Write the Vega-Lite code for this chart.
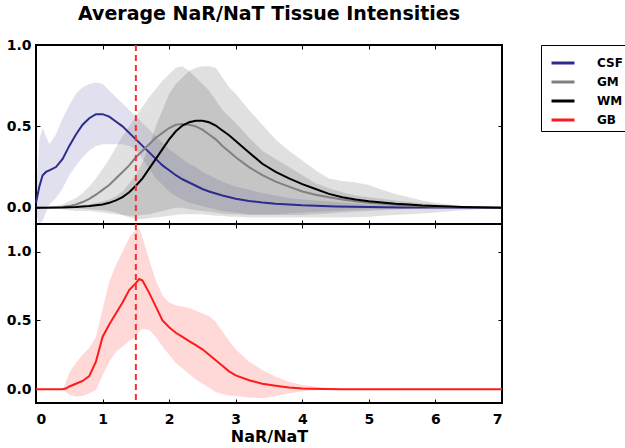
{
  "$schema": "https://vega.github.io/schema/vega-lite/v6.json",
  "padding": {"left": 5, "top": 5, "right": 0, "bottom": 5},
  "title": {"text": "Average NaR/NaT Tissue Intensities", "font": "DejaVu Sans", "fontSize": 19, "fontWeight": "bold", "color": "black", "anchor": "middle", "frame": "group", "offset": 13},
  "datasets": {
    "marker": [{"x": 1.5}],
    "tissue": [
      {"s": "CSF", "x": 0, "m": 0.03, "lo": -0.04, "hi": 0.08},
      {"s": "CSF", "x": 0.05, "m": 0.13, "lo": -0.1, "hi": 0.42},
      {"s": "CSF", "x": 0.1, "m": 0.2, "lo": -0.08, "hi": 0.49},
      {"s": "CSF", "x": 0.15, "m": 0.22, "lo": -0.03, "hi": 0.44},
      {"s": "CSF", "x": 0.2, "m": 0.23, "lo": 0.02, "hi": 0.39},
      {"s": "CSF", "x": 0.3, "m": 0.25, "lo": 0.06, "hi": 0.45},
      {"s": "CSF", "x": 0.4, "m": 0.3, "lo": 0.12, "hi": 0.55},
      {"s": "CSF", "x": 0.5, "m": 0.38, "lo": 0.2, "hi": 0.63},
      {"s": "CSF", "x": 0.6, "m": 0.45, "lo": 0.26, "hi": 0.7},
      {"s": "CSF", "x": 0.7, "m": 0.51, "lo": 0.31, "hi": 0.74},
      {"s": "CSF", "x": 0.8, "m": 0.55, "lo": 0.35, "hi": 0.76},
      {"s": "CSF", "x": 0.9, "m": 0.575, "lo": 0.38, "hi": 0.77},
      {"s": "CSF", "x": 1.0, "m": 0.575, "lo": 0.39, "hi": 0.76},
      {"s": "CSF", "x": 1.1, "m": 0.56, "lo": 0.39, "hi": 0.72},
      {"s": "CSF", "x": 1.2, "m": 0.53, "lo": 0.39, "hi": 0.68},
      {"s": "CSF", "x": 1.3, "m": 0.5, "lo": 0.39, "hi": 0.64},
      {"s": "CSF", "x": 1.4, "m": 0.46, "lo": 0.38, "hi": 0.6},
      {"s": "CSF", "x": 1.5, "m": 0.42, "lo": 0.36, "hi": 0.56},
      {"s": "CSF", "x": 1.6, "m": 0.38, "lo": 0.3, "hi": 0.52},
      {"s": "CSF", "x": 1.7, "m": 0.34, "lo": 0.24, "hi": 0.48},
      {"s": "CSF", "x": 1.8, "m": 0.3, "lo": 0.18, "hi": 0.44},
      {"s": "CSF", "x": 1.9, "m": 0.26, "lo": 0.14, "hi": 0.4},
      {"s": "CSF", "x": 2.0, "m": 0.23, "lo": 0.1, "hi": 0.36},
      {"s": "CSF", "x": 2.1, "m": 0.2, "lo": 0.07, "hi": 0.33},
      {"s": "CSF", "x": 2.2, "m": 0.175, "lo": 0.05, "hi": 0.3},
      {"s": "CSF", "x": 2.3, "m": 0.155, "lo": 0.03, "hi": 0.27},
      {"s": "CSF", "x": 2.4, "m": 0.135, "lo": 0.02, "hi": 0.25},
      {"s": "CSF", "x": 2.5, "m": 0.115, "lo": 0.01, "hi": 0.22},
      {"s": "CSF", "x": 2.6, "m": 0.1, "lo": 0.0, "hi": 0.2},
      {"s": "CSF", "x": 2.8, "m": 0.075, "lo": -0.02, "hi": 0.16},
      {"s": "CSF", "x": 3.0, "m": 0.055, "lo": -0.03, "hi": 0.13},
      {"s": "CSF", "x": 3.2, "m": 0.042, "lo": -0.04, "hi": 0.11},
      {"s": "CSF", "x": 3.4, "m": 0.032, "lo": -0.04, "hi": 0.09},
      {"s": "CSF", "x": 3.6, "m": 0.025, "lo": -0.04, "hi": 0.075},
      {"s": "CSF", "x": 3.8, "m": 0.02, "lo": -0.035, "hi": 0.06},
      {"s": "CSF", "x": 4.0, "m": 0.015, "lo": -0.03, "hi": 0.05},
      {"s": "CSF", "x": 4.5, "m": 0.008, "lo": -0.02, "hi": 0.035},
      {"s": "CSF", "x": 5.0, "m": 0.004, "lo": -0.01, "hi": 0.02},
      {"s": "CSF", "x": 5.5, "m": 0.002, "lo": -0.005, "hi": 0.01},
      {"s": "CSF", "x": 6.0, "m": 0.001, "lo": -0.002, "hi": 0.005},
      {"s": "CSF", "x": 7.0, "m": 0, "lo": 0, "hi": 0},
      {"s": "GM", "x": 0, "m": 0, "lo": 0, "hi": 0},
      {"s": "GM", "x": 0.2, "m": 0.001, "lo": -0.003, "hi": 0.005},
      {"s": "GM", "x": 0.4, "m": 0.005, "lo": -0.01, "hi": 0.02},
      {"s": "GM", "x": 0.5, "m": 0.01, "lo": -0.015, "hi": 0.04},
      {"s": "GM", "x": 0.6, "m": 0.02, "lo": -0.02, "hi": 0.06},
      {"s": "GM", "x": 0.7, "m": 0.035, "lo": -0.02, "hi": 0.09},
      {"s": "GM", "x": 0.8, "m": 0.055, "lo": -0.02, "hi": 0.13},
      {"s": "GM", "x": 0.9, "m": 0.08, "lo": -0.025, "hi": 0.18},
      {"s": "GM", "x": 1.0, "m": 0.11, "lo": -0.03, "hi": 0.24},
      {"s": "GM", "x": 1.1, "m": 0.14, "lo": -0.035, "hi": 0.3},
      {"s": "GM", "x": 1.2, "m": 0.18, "lo": -0.04, "hi": 0.37},
      {"s": "GM", "x": 1.3, "m": 0.22, "lo": -0.045, "hi": 0.44},
      {"s": "GM", "x": 1.4, "m": 0.26, "lo": -0.05, "hi": 0.5},
      {"s": "GM", "x": 1.5, "m": 0.31, "lo": -0.05, "hi": 0.56},
      {"s": "GM", "x": 1.6, "m": 0.35, "lo": -0.045, "hi": 0.62},
      {"s": "GM", "x": 1.7, "m": 0.39, "lo": -0.04, "hi": 0.68},
      {"s": "GM", "x": 1.8, "m": 0.43, "lo": -0.03, "hi": 0.73},
      {"s": "GM", "x": 1.9, "m": 0.46, "lo": -0.02, "hi": 0.78},
      {"s": "GM", "x": 2.0, "m": 0.49, "lo": -0.01, "hi": 0.82},
      {"s": "GM", "x": 2.1, "m": 0.51, "lo": 0.0, "hi": 0.86},
      {"s": "GM", "x": 2.2, "m": 0.515, "lo": 0.0, "hi": 0.87},
      {"s": "GM", "x": 2.3, "m": 0.51, "lo": -0.01, "hi": 0.84},
      {"s": "GM", "x": 2.4, "m": 0.5, "lo": -0.015, "hi": 0.8},
      {"s": "GM", "x": 2.5, "m": 0.48, "lo": -0.02, "hi": 0.76},
      {"s": "GM", "x": 2.6, "m": 0.45, "lo": -0.025, "hi": 0.72},
      {"s": "GM", "x": 2.7, "m": 0.42, "lo": -0.03, "hi": 0.66},
      {"s": "GM", "x": 2.8, "m": 0.38, "lo": -0.035, "hi": 0.6},
      {"s": "GM", "x": 2.9, "m": 0.345, "lo": -0.04, "hi": 0.56},
      {"s": "GM", "x": 3.0, "m": 0.31, "lo": -0.04, "hi": 0.52},
      {"s": "GM", "x": 3.2, "m": 0.25, "lo": -0.045, "hi": 0.43},
      {"s": "GM", "x": 3.4, "m": 0.2, "lo": -0.045, "hi": 0.35},
      {"s": "GM", "x": 3.6, "m": 0.16, "lo": -0.045, "hi": 0.3},
      {"s": "GM", "x": 3.8, "m": 0.13, "lo": -0.045, "hi": 0.25},
      {"s": "GM", "x": 4.0, "m": 0.1, "lo": -0.045, "hi": 0.2},
      {"s": "GM", "x": 4.2, "m": 0.08, "lo": -0.04, "hi": 0.15},
      {"s": "GM", "x": 4.4, "m": 0.065, "lo": -0.035, "hi": 0.12},
      {"s": "GM", "x": 4.6, "m": 0.05, "lo": -0.03, "hi": 0.095},
      {"s": "GM", "x": 4.8, "m": 0.04, "lo": -0.025, "hi": 0.075},
      {"s": "GM", "x": 5.0, "m": 0.03, "lo": -0.02, "hi": 0.065},
      {"s": "GM", "x": 5.5, "m": 0.015, "lo": -0.01, "hi": 0.04},
      {"s": "GM", "x": 6.0, "m": 0.007, "lo": -0.005, "hi": 0.02},
      {"s": "GM", "x": 6.5, "m": 0.003, "lo": -0.002, "hi": 0.008},
      {"s": "GM", "x": 7.0, "m": 0, "lo": 0, "hi": 0},
      {"s": "WM", "x": 0, "m": 0, "lo": 0, "hi": 0},
      {"s": "WM", "x": 0.4, "m": 0.001, "lo": -0.002, "hi": 0.003},
      {"s": "WM", "x": 0.6, "m": 0.004, "lo": -0.005, "hi": 0.01},
      {"s": "WM", "x": 0.8, "m": 0.01, "lo": -0.01, "hi": 0.02},
      {"s": "WM", "x": 0.9, "m": 0.015, "lo": -0.012, "hi": 0.03},
      {"s": "WM", "x": 1.0, "m": 0.02, "lo": -0.015, "hi": 0.04},
      {"s": "WM", "x": 1.1, "m": 0.03, "lo": -0.02, "hi": 0.05},
      {"s": "WM", "x": 1.2, "m": 0.045, "lo": -0.03, "hi": 0.07},
      {"s": "WM", "x": 1.3, "m": 0.065, "lo": -0.045, "hi": 0.1},
      {"s": "WM", "x": 1.4, "m": 0.095, "lo": -0.06, "hi": 0.15},
      {"s": "WM", "x": 1.5, "m": 0.135, "lo": -0.07, "hi": 0.2},
      {"s": "WM", "x": 1.6, "m": 0.18, "lo": -0.07, "hi": 0.28},
      {"s": "WM", "x": 1.7, "m": 0.24, "lo": -0.065, "hi": 0.38},
      {"s": "WM", "x": 1.8, "m": 0.3, "lo": -0.06, "hi": 0.5},
      {"s": "WM", "x": 1.9, "m": 0.36, "lo": -0.055, "hi": 0.6},
      {"s": "WM", "x": 2.0, "m": 0.42, "lo": -0.05, "hi": 0.7},
      {"s": "WM", "x": 2.1, "m": 0.47, "lo": -0.045, "hi": 0.76},
      {"s": "WM", "x": 2.2, "m": 0.505, "lo": -0.04, "hi": 0.8},
      {"s": "WM", "x": 2.3, "m": 0.525, "lo": -0.04, "hi": 0.84},
      {"s": "WM", "x": 2.4, "m": 0.535, "lo": -0.04, "hi": 0.86},
      {"s": "WM", "x": 2.5, "m": 0.535, "lo": -0.04, "hi": 0.87},
      {"s": "WM", "x": 2.6, "m": 0.525, "lo": -0.045, "hi": 0.87},
      {"s": "WM", "x": 2.7, "m": 0.505, "lo": -0.05, "hi": 0.86},
      {"s": "WM", "x": 2.8, "m": 0.475, "lo": -0.05, "hi": 0.8},
      {"s": "WM", "x": 2.9, "m": 0.445, "lo": -0.055, "hi": 0.74},
      {"s": "WM", "x": 3.0, "m": 0.41, "lo": -0.055, "hi": 0.7},
      {"s": "WM", "x": 3.2, "m": 0.34, "lo": -0.06, "hi": 0.6},
      {"s": "WM", "x": 3.4, "m": 0.27, "lo": -0.06, "hi": 0.51},
      {"s": "WM", "x": 3.6, "m": 0.22, "lo": -0.06, "hi": 0.42},
      {"s": "WM", "x": 3.8, "m": 0.18, "lo": -0.06, "hi": 0.35},
      {"s": "WM", "x": 4.0, "m": 0.145, "lo": -0.06, "hi": 0.29},
      {"s": "WM", "x": 4.2, "m": 0.115, "lo": -0.06, "hi": 0.23},
      {"s": "WM", "x": 4.4, "m": 0.085, "lo": -0.06, "hi": 0.18},
      {"s": "WM", "x": 4.6, "m": 0.065, "lo": -0.06, "hi": 0.165},
      {"s": "WM", "x": 4.8, "m": 0.05, "lo": -0.058, "hi": 0.155},
      {"s": "WM", "x": 5.0, "m": 0.04, "lo": -0.055, "hi": 0.14},
      {"s": "WM", "x": 5.2, "m": 0.032, "lo": -0.05, "hi": 0.11},
      {"s": "WM", "x": 5.4, "m": 0.025, "lo": -0.045, "hi": 0.085},
      {"s": "WM", "x": 5.6, "m": 0.02, "lo": -0.04, "hi": 0.065},
      {"s": "WM", "x": 5.8, "m": 0.014, "lo": -0.035, "hi": 0.045},
      {"s": "WM", "x": 6.0, "m": 0.01, "lo": -0.03, "hi": 0.03},
      {"s": "WM", "x": 6.4, "m": 0.005, "lo": -0.015, "hi": 0.01},
      {"s": "WM", "x": 7.0, "m": 0, "lo": 0, "hi": 0}
    ],
    "gb": [
      {"s": "GB", "x": 0, "m": 0, "lo": 0, "hi": 0},
      {"s": "GB", "x": 0.4, "m": 0, "lo": 0, "hi": 0},
      {"s": "GB", "x": 0.45, "m": 0.005, "lo": -0.02, "hi": 0.05},
      {"s": "GB", "x": 0.5, "m": 0.02, "lo": -0.04, "hi": 0.12},
      {"s": "GB", "x": 0.6, "m": 0.04, "lo": -0.055, "hi": 0.19},
      {"s": "GB", "x": 0.7, "m": 0.06, "lo": -0.05, "hi": 0.25},
      {"s": "GB", "x": 0.8, "m": 0.095, "lo": -0.03, "hi": 0.3},
      {"s": "GB", "x": 0.9, "m": 0.2, "lo": -0.005, "hi": 0.38},
      {"s": "GB", "x": 1.0, "m": 0.38, "lo": 0.1, "hi": 0.58},
      {"s": "GB", "x": 1.1, "m": 0.47, "lo": 0.2, "hi": 0.78},
      {"s": "GB", "x": 1.2, "m": 0.55, "lo": 0.27, "hi": 0.9},
      {"s": "GB", "x": 1.3, "m": 0.63, "lo": 0.31, "hi": 1.0},
      {"s": "GB", "x": 1.4, "m": 0.72, "lo": 0.35, "hi": 1.1},
      {"s": "GB", "x": 1.5, "m": 0.77, "lo": 0.38, "hi": 1.16},
      {"s": "GB", "x": 1.55, "m": 0.8, "lo": 0.42, "hi": 1.17},
      {"s": "GB", "x": 1.6, "m": 0.79, "lo": 0.44, "hi": 1.1},
      {"s": "GB", "x": 1.7, "m": 0.7, "lo": 0.43, "hi": 0.94},
      {"s": "GB", "x": 1.8, "m": 0.6, "lo": 0.38, "hi": 0.79},
      {"s": "GB", "x": 1.9, "m": 0.5, "lo": 0.31, "hi": 0.68},
      {"s": "GB", "x": 2.0, "m": 0.45, "lo": 0.25, "hi": 0.63},
      {"s": "GB", "x": 2.1, "m": 0.41, "lo": 0.19, "hi": 0.61},
      {"s": "GB", "x": 2.2, "m": 0.38, "lo": 0.15, "hi": 0.6},
      {"s": "GB", "x": 2.3, "m": 0.35, "lo": 0.11, "hi": 0.59},
      {"s": "GB", "x": 2.4, "m": 0.32, "lo": 0.07, "hi": 0.57},
      {"s": "GB", "x": 2.5, "m": 0.29, "lo": 0.04, "hi": 0.55},
      {"s": "GB", "x": 2.6, "m": 0.25, "lo": 0.01, "hi": 0.53},
      {"s": "GB", "x": 2.7, "m": 0.21, "lo": -0.02, "hi": 0.49},
      {"s": "GB", "x": 2.8, "m": 0.17, "lo": -0.035, "hi": 0.42},
      {"s": "GB", "x": 2.9, "m": 0.13, "lo": -0.045, "hi": 0.35},
      {"s": "GB", "x": 3.0, "m": 0.1, "lo": -0.05, "hi": 0.29},
      {"s": "GB", "x": 3.2, "m": 0.065, "lo": -0.06, "hi": 0.2},
      {"s": "GB", "x": 3.4, "m": 0.04, "lo": -0.065, "hi": 0.14},
      {"s": "GB", "x": 3.6, "m": 0.025, "lo": -0.05, "hi": 0.09},
      {"s": "GB", "x": 3.8, "m": 0.012, "lo": -0.03, "hi": 0.055},
      {"s": "GB", "x": 4.0, "m": 0.006, "lo": -0.015, "hi": 0.03},
      {"s": "GB", "x": 4.3, "m": 0.002, "lo": -0.005, "hi": 0.012},
      {"s": "GB", "x": 4.6, "m": 0, "lo": 0, "hi": 0.003},
      {"s": "GB", "x": 7.0, "m": 0, "lo": 0, "hi": 0}
    ]
  },
  "vconcat": [
    {
      "width": 466,
      "height": 179,
      "layer": [
        {
          "data": {"name": "tissue"},
          "transform": [{"filter": "datum.s == 'CSF'"}],
          "mark": {"type": "area", "fill": "#2c2c8c", "fillOpacity": 0.15},
          "encoding": {
            "x": {"field": "x", "type": "quantitative", "scale": {"domain": [0, 7], "nice": false}, "axis": {"values": [0, 1, 2, 3, 4, 5, 6, 7], "labels": false, "title": null}},
            "y": {"field": "lo", "type": "quantitative", "scale": {"domain": [-0.1, 1.0], "nice": false, "zero": false}, "axis": {"values": [0, 0.5, 1], "format": ".1f", "title": null}},
            "y2": {"field": "hi"}
          }
        },
        {
          "data": {"name": "tissue"},
          "transform": [{"filter": "datum.s == 'GM'"}],
          "mark": {"type": "area", "fill": "#808080", "fillOpacity": 0.24},
          "encoding": {
            "x": {"field": "x", "type": "quantitative", "scale": {"domain": [0, 7], "nice": false}, "axis": null},
            "y": {"field": "lo", "type": "quantitative", "scale": {"domain": [-0.1, 1.0], "nice": false, "zero": false}, "axis": null},
            "y2": {"field": "hi"}
          }
        },
        {
          "data": {"name": "tissue"},
          "transform": [{"filter": "datum.s == 'WM'"}],
          "mark": {"type": "area", "fill": "#000000", "fillOpacity": 0.12},
          "encoding": {
            "x": {"field": "x", "type": "quantitative", "scale": {"domain": [0, 7], "nice": false}, "axis": null},
            "y": {"field": "lo", "type": "quantitative", "scale": {"domain": [-0.1, 1.0], "nice": false, "zero": false}, "axis": null},
            "y2": {"field": "hi"}
          }
        },
        {
          "data": {"name": "tissue"},
          "mark": {"type": "line", "strokeWidth": 2},
          "encoding": {
            "x": {"field": "x", "type": "quantitative", "scale": {"domain": [0, 7], "nice": false}, "axis": null},
            "y": {"field": "m", "type": "quantitative", "scale": {"domain": [-0.1, 1.0], "nice": false, "zero": false}, "axis": null},
            "color": {"field": "s", "type": "nominal", "scale": {"domain": ["CSF", "GM", "WM", "GB"], "range": ["#2c2c8c", "#808080", "#000000", "#ff1a1a"]}, "title": null}
          }
        },
        {
          "data": {"name": "marker"},
          "mark": {"type": "rule", "color": "#ff2a2a", "strokeDash": [6, 4], "strokeWidth": 2},
          "encoding": {
            "x": {"field": "x", "type": "quantitative", "scale": {"domain": [0, 7], "nice": false}, "axis": null}
          }
        },
        {
          "data": {"name": "tissue"},
          "mark": {"type": "line", "opacity": 0},
          "encoding": {
            "x": {"field": "x", "type": "quantitative", "scale": {"domain": [0, 7], "nice": false}, "axis": {"orient": "top", "values": [0, 1, 2, 3, 4, 5, 6, 7], "labels": false, "title": null}},
            "y": {"field": "m", "type": "quantitative", "scale": {"domain": [-0.1, 1.0], "nice": false, "zero": false}, "axis": {"orient": "right", "values": [0, 0.5, 1], "labels": false, "title": null}}
          }
        }
      ],
      "resolve": {"axis": {"x": "independent", "y": "independent"}}
    },
    {
      "width": 466,
      "height": 179,
      "layer": [
        {
          "data": {"name": "gb"},
          "mark": {"type": "area", "fill": "#ff1a1a", "fillOpacity": 0.17},
          "encoding": {
            "x": {"field": "x", "type": "quantitative", "scale": {"domain": [0, 7], "nice": false}, "axis": {"values": [0, 1, 2, 3, 4, 5, 6, 7], "title": "NaR/NaT", "labelPadding": 13, "titlePadding": 2}},
            "y": {"field": "lo", "type": "quantitative", "scale": {"domain": [-0.1, 1.2], "nice": false, "zero": false}, "axis": {"values": [0, 0.5, 1], "format": ".1f", "title": null}},
            "y2": {"field": "hi"}
          }
        },
        {
          "data": {"name": "gb"},
          "mark": {"type": "line", "strokeWidth": 2},
          "encoding": {
            "x": {"field": "x", "type": "quantitative", "scale": {"domain": [0, 7], "nice": false}, "axis": null},
            "y": {"field": "m", "type": "quantitative", "scale": {"domain": [-0.1, 1.2], "nice": false, "zero": false}, "axis": null},
            "color": {"field": "s", "type": "nominal", "title": null}
          }
        },
        {
          "data": {"name": "marker"},
          "mark": {"type": "rule", "color": "#ff2a2a", "strokeDash": [6, 4], "strokeWidth": 2},
          "encoding": {
            "x": {"field": "x", "type": "quantitative", "scale": {"domain": [0, 7], "nice": false}, "axis": null}
          }
        },
        {
          "data": {"name": "gb"},
          "mark": {"type": "line", "opacity": 0},
          "encoding": {
            "x": {"field": "x", "type": "quantitative", "scale": {"domain": [0, 7], "nice": false}, "axis": {"orient": "top", "values": [0, 1, 2, 3, 4, 5, 6, 7], "labels": false, "title": null}},
            "y": {"field": "m", "type": "quantitative", "scale": {"domain": [-0.1, 1.2], "nice": false, "zero": false}, "axis": {"orient": "right", "values": [0, 0.5, 1], "labels": false, "title": null}}
          }
        }
      ],
      "resolve": {"axis": {"x": "independent", "y": "independent"}}
    }
  ],
  "spacing": 0,
  "bounds": "flush",
  "resolve": {"scale": {"x": "independent", "y": "independent", "color": "shared"}},
  "config": {
    "view": {"stroke": "black", "strokeWidth": 2},
    "axis": {"domain": false, "grid": false, "ticks": true, "tickColor": "black", "tickSize": -4, "tickWidth": 1, "labelFont": "DejaVu Sans", "labelFontSize": 14, "labelFontWeight": "bold", "labelColor": "black", "labelPadding": 9, "titleFont": "DejaVu Sans", "titleFontSize": 16, "titleFontWeight": "bold", "titleColor": "black"},
    "legend": {"orient": "right", "offset": 34, "symbolType": "stroke", "symbolSize": 529, "symbolStrokeWidth": 3, "symbolOpacity": 1, "symbolOffset": 4, "labelFont": "DejaVu Sans", "labelFontSize": 12, "labelFontWeight": "bold", "labelColor": "black", "labelOffset": 21, "strokeColor": "black", "padding": 5, "rowPadding": -3}
  }
}
